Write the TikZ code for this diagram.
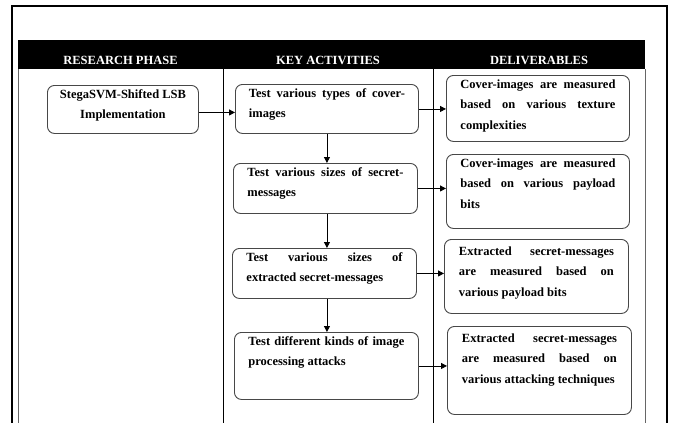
\documentclass[tikz,border=0pt]{standalone}
\usepackage{fontspec}
\setmainfont{Liberation Serif}
\usetikzlibrary{arrows.meta}
\tolerance=10000 \hbadness=10000 \hfuzz=30pt \vbadness=10000 \vfuzz=30pt
\newcommand\bxt[3]{\parbox[c][#1][t]{#2}{\bfseries\fontsize{12.5}{20.5}\selectfont #3}}
\begin{document}
\begin{tikzpicture}[x=1pt,y=-1pt,
  box/.style={draw=black!72, line width=0.9pt, rounded corners=7pt, inner sep=0pt, anchor=north west},
  arr/.style={-{Triangle[length=6pt,width=6pt]}, line width=0.8pt},
  rule/.style={line width=0.8pt},
  head/.style={text=white, font=\bfseries\fontsize{12.5}{14}\selectfont, inner sep=0pt}]
\useasboundingbox (0,0) rectangle (681,423);
% outer frame
\draw[line width=1.4pt] (12,423) -- (12,6) -- (667,6) -- (667,423);
% table
\fill (18,40) rectangle (645,69);
\draw[rule, black!60] (18,69) -- (18,423);
\draw[rule] (223,69) -- (223,423);
\draw[rule] (433,69) -- (433,423);
\draw[rule, black!60] (645,69) -- (645,423);
\node[head] (h1) at (120.5,60) {RESEARCH PHASE};
\node[head] (h2) at (328,60) {KEY ACTIVITIES};
\node[head] (h3) at (539,60) {DELIVERABLES};
% research phase
\node[box, minimum width=151pt, minimum height=48pt] (R) at (47,85)
  {\bxt{40pt}{140pt}{\centering StegaSVM-Shifted LSB\\Implementation\par}};
% key activities
\node[box, minimum width=183pt, minimum height=49pt] (A1) at (235,84)
  {\bxt{41pt}{156pt}{Test various types of cover-\linebreak images}};
\node[box, minimum width=184pt, minimum height=50pt] (A2) at (233,163)
  {\bxt{42pt}{156pt}{Test various sizes of secret-\linebreak messages}};
\node[box, minimum width=184pt, minimum height=50pt] (A3) at (232,248)
  {\bxt{42pt}{156pt}{Test various sizes of\linebreak extracted secret-messages}};
\node[box, minimum width=184pt, minimum height=67pt] (A4) at (234,332)
  {\bxt{59pt}{156pt}{Test different kinds of image\linebreak processing attacks}};
% deliverables
\node[box, minimum width=183pt, minimum height=66pt] (D1) at (446,75)
  {\bxt{58pt}{155pt}{Cover-images are measured\linebreak based on various texture\linebreak complexities}};
\node[box, minimum width=183pt, minimum height=74pt] (D2) at (446,154)
  {\bxt{66pt}{155pt}{Cover-images are measured\linebreak based on various payload\linebreak bits}};
\node[box, minimum width=184pt, minimum height=74pt] (D3) at (444,239)
  {\bxt{60pt}{155pt}{Extracted secret-messages\linebreak are measured based on\linebreak various payload bits}};
\node[box, minimum width=184pt, minimum height=88pt] (D4) at (447,326)
  {\bxt{74pt}{155pt}{Extracted secret-messages\linebreak are measured based on\linebreak various attacking techniques}};
% connectors
\draw[arr] ([yshift=-3pt]R.east) -- ([yshift=-3pt]R.east -| A1.west);
\draw[arr] (A1.east) -- (A1.east -| D1.west);
\draw[arr] (A2.east) -- (A2.east -| D2.west);
\draw[arr] (A3.east) -- (A3.east -| D3.west);
\draw[arr] (A4.east) -- (A4.east -| D4.west);
\draw[arr] (A1.south) -- (A1.south |- A2.north);
\draw[arr] (A2.south -| A1.south) -- (A3.north -| A1.south);
\draw[arr] (A3.south -| A1.south) -- (A4.north -| A1.south);
\end{tikzpicture}
\end{document}
